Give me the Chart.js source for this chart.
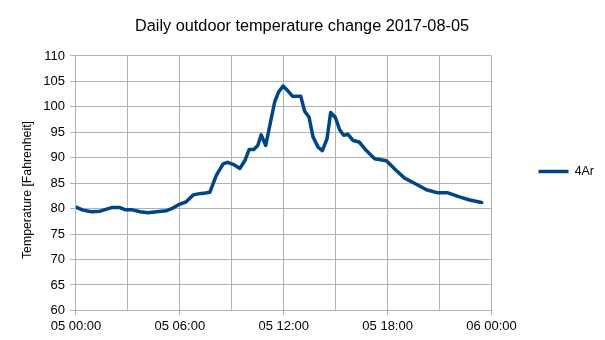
<!DOCTYPE html>
<html>
<head>
<meta charset="utf-8">
<script src="https://cdn.jsdelivr.net/npm/chart.js@4/dist/chart.umd.min.js"></script>
<style>
  html, body { margin: 0; padding: 0; background: #ffffff; }
  #wrap { width: 605px; height: 340px; position: relative; }
</style>
</head>
<body>
<div id="wrap"><canvas id="c"></canvas></div>
<script>
// Hours since 2017-08-05 00:00
const hours = [0, 0.4, 0.9, 1.4, 2.06, 2.54, 2.83, 3.2, 3.7, 4.17, 4.65, 5.23, 5.6, 6.0, 6.35, 6.77, 7.06, 7.35, 7.73, 8.1, 8.5, 8.75, 9.08, 9.46, 9.75, 10.0, 10.27, 10.5, 10.7, 10.96, 11.2, 11.48, 11.7, 11.96, 12.25, 12.5, 12.98, 13.21, 13.46, 13.69, 13.98, 14.23, 14.5, 14.71, 14.98, 15.23, 15.46, 15.71, 16.0, 16.35, 16.77, 17.25, 17.93, 18.5, 18.98, 19.66, 20.24, 20.9, 21.48, 22.15, 22.73, 23.43];
// Temperature [F], series "4Ar"
const temps = [80.3, 79.7, 79.4, 79.5, 80.2, 80.2, 79.8, 79.8, 79.4, 79.2, 79.4, 79.6, 80.1, 80.9, 81.3, 82.7, 82.9, 83.0, 83.2, 86.5, 88.8, 89.1, 88.7, 87.9, 89.4, 91.6, 91.6, 92.4, 94.5, 92.4, 96.4, 101.0, 102.9, 104.1, 103.1, 102.1, 102.1, 99.1, 98.0, 94.1, 92.1, 91.4, 93.7, 98.9, 97.9, 95.5, 94.4, 94.6, 93.4, 93.1, 91.4, 89.8, 89.4, 87.5, 86.0, 84.8, 83.7, 83.1, 83.1, 82.3, 81.7, 81.2];
const seriesName = "4Ar";
const xTickLabels = ["05 00:00", "05 06:00", "05 12:00", "05 18:00", "06 00:00"];
const chartTitle = "Daily outdoor temperature change 2017-08-05";
const yAxisTitle = "Temperature [Fahrenheit]";

const points = hours.map((h, i) => ({ x: h, y: temps[i] }));
const FONT = "'Liberation Sans', Arial, sans-serif";
const GRID = "#b3b3b3";
const LINE = "#004586";

new Chart(document.getElementById('c'), {
  type: 'line',
  data: {
    datasets: [{
      label: seriesName,
      data: points,
      borderColor: LINE,
      backgroundColor: LINE,
      borderWidth: 3.5,
      pointRadius: 0,
      pointHoverRadius: 0,
      tension: 0,
      borderJoinStyle: 'round',
      borderCapStyle: 'round',
      pointStyle: 'line'
    }]
  },
  options: {
    responsive: true,
    maintainAspectRatio: false,
    animation: false,
    devicePixelRatio: 1,
    layout: { padding: { left: 0, right: 1, top: 6, bottom: 3 } },
    plugins: {
      title: {
        display: true,
        text: chartTitle,
        color: '#000',
        font: { family: FONT, size: 16.3, weight: 'normal' },
        padding: { top: 11.2, bottom: 19.2 }
      },
      legend: {
        display: true,
        position: 'right',
        align: 'center',
        labels: {
          color: '#000',
          font: { family: FONT, size: 12.4 },
          usePointStyle: true,
          pointStyle: 'line',
          pointStyleWidth: 30,
          boxWidth: 30,
          padding: 47
        }
      },
      tooltip: { enabled: false }
    },
    scales: {
      x: {
        type: 'linear',
        min: 0,
        max: 24,
        ticks: {
          stepSize: 3,
          autoSkip: false,
          maxRotation: 0,
          padding: 3,
          color: '#000',
          font: { family: FONT, size: 13 },
          callback: (v) => (v % 6 === 0 ? xTickLabels[v / 6] : '')
        },
        grid: {
          color: GRID,
          lineWidth: 1,
          tickLength: 5,
          tickColor: (ctx) => (ctx.tick && ctx.tick.value % 6 === 0 ? GRID : 'rgba(0,0,0,0)')
        },
        border: { color: GRID }
      },
      y: {
        min: 60,
        max: 110,
        ticks: {
          stepSize: 5,
          padding: 5,
          color: '#000',
          font: { family: FONT, size: 13 }
        },
        grid: { color: GRID, lineWidth: 1, tickLength: 6 },
        border: { color: GRID },
        title: {
          display: true,
          text: yAxisTitle + "    ",
          color: '#000',
          font: { family: FONT, size: 12.3 },
          padding: { top: 20.6, bottom: 2.9 }
        }
      }
    }
  }
});
</script>
</body>
</html>
